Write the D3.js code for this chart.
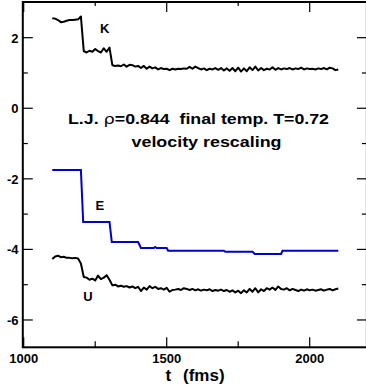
<!DOCTYPE html>
<html><head><meta charset="utf-8">
<script src="https://cdn.jsdelivr.net/npm/d3@7"></script>
<style>
html,body{margin:0;padding:0;background:#fff;}
svg{display:block;}
text{font-family:"Liberation Sans",Arial,Helvetica,sans-serif;font-weight:bold;fill:#000;}
</style></head>
<body>
<script>
// ---- data ----
const tValues = d3.range(1100, 2101, 10); // sample times (fs), 101 points
const kinetic = [2.55,2.54,2.50,2.44,2.45,2.48,2.50,2.50,2.51,2.52,
 2.60,1.62,1.58,1.63,1.60,1.68,1.62,1.58,1.70,1.60,
 1.72,1.22,1.20,1.21,1.19,1.24,1.18,1.23,1.22,1.18,
 1.20,1.14,1.20,1.12,1.18,1.13,1.16,1.10,1.14,1.11,
 1.12,1.08,1.12,1.10,1.12,1.11,1.13,1.12,1.17,1.12,
 1.18,1.14,1.10,1.13,1.08,1.12,1.10,1.14,1.09,1.14,
 1.07,1.13,1.06,1.14,1.05,1.15,1.04,1.13,1.05,1.16,
 1.08,1.18,1.07,1.14,1.08,1.12,1.10,1.16,1.09,1.14,
 1.10,1.13,1.11,1.14,1.10,1.13,1.11,1.15,1.10,1.13,
 1.11,1.12,1.10,1.13,1.11,1.14,1.10,1.15,1.13,1.08,1.10];
const potential = [-4.27,-4.20,-4.18,-4.22,-4.21,-4.24,-4.24,-4.25,-4.24,-4.26,
 -4.40,-4.78,-4.80,-4.86,-4.83,-4.88,-4.74,-4.84,-4.80,-4.73,
 -4.86,-5.02,-5.00,-5.05,-5.03,-5.06,-5.04,-5.08,-5.05,-5.10,
 -5.06,-5.18,-5.08,-5.14,-5.04,-5.10,-5.06,-5.12,-5.10,-5.14,
 -5.09,-5.20,-5.15,-5.14,-5.12,-5.15,-5.10,-5.12,-5.15,-5.12,
 -5.16,-5.13,-5.17,-5.14,-5.16,-5.13,-5.18,-5.15,-5.17,-5.14,
 -5.18,-5.15,-5.20,-5.16,-5.22,-5.17,-5.24,-5.16,-5.22,-5.12,
 -5.20,-5.10,-5.22,-5.13,-5.18,-5.10,-5.14,-5.08,-5.15,-5.05,
 -5.12,-5.14,-5.10,-5.16,-5.12,-5.15,-5.18,-5.14,-5.17,-5.13,
 -5.16,-5.14,-5.17,-5.15,-5.13,-5.17,-5.14,-5.12,-5.16,-5.13,-5.11];
const energyT = [1100,1200,1208,1300,1308,1400,1410,1455,1460,1465,1500,1505,1700,1705,1800,1808,1900,1905,2100];
const energy  = [-1.75,-1.75,-3.22,-3.22,-3.79,-3.79,-3.96,-3.96,-3.93,-3.96,-3.96,-4.04,-4.04,-4.07,-4.07,-4.13,-4.13,-4.04,-4.04];
const xMajorTicks = [1000,1500,2000];
const xMinorTicks = [1250,1750];
const yMajorTicks = [2,0,-2,-4,-6];
const yMinorTicks = [1,-1,-3,-5];

// ---- chart ----
const W = 366, H = 389;
const svg = d3.select("body").append("svg").attr("width", W).attr("height", H);
const x = d3.scaleLinear().domain([1000, 2200]).range([23.7, 366.9]);
const y = d3.scaleLinear().domain([3, -6.8]).range([2.4, 348.2]);
const L = 22.8, R = 366.9, T = 2, B = 347.3;

const line = d3.line().x(d => x(d[0])).y(d => y(d[1]));

// frame
svg.append("rect").attr("x", L).attr("y", T).attr("width", R - L).attr("height", B - T)
  .attr("fill", "none").attr("stroke", "#000").attr("stroke-width", 2);

const tk = svg.append("g").attr("stroke", "#000").attr("stroke-width", 1.2);
yMajorTicks.forEach(v => {
  tk.append("line").attr("x1", L).attr("x2", L + 10).attr("y1", y(v)).attr("y2", y(v));
  tk.append("line").attr("x1", R - 10).attr("x2", R).attr("y1", y(v)).attr("y2", y(v));
});
yMinorTicks.forEach(v => {
  tk.append("line").attr("x1", L).attr("x2", L + 5).attr("y1", y(v)).attr("y2", y(v));
  tk.append("line").attr("x1", R - 5).attr("x2", R).attr("y1", y(v)).attr("y2", y(v));
});
xMajorTicks.forEach(v => {
  tk.append("line").attr("x1", x(v)).attr("x2", x(v)).attr("y1", B).attr("y2", B - 10);
  tk.append("line").attr("x1", x(v)).attr("x2", x(v)).attr("y1", T).attr("y2", T + 10);
});
xMinorTicks.forEach(v => {
  tk.append("line").attr("x1", x(v)).attr("x2", x(v)).attr("y1", B).attr("y2", B - 6);
  tk.append("line").attr("x1", x(v)).attr("x2", x(v)).attr("y1", T).attr("y2", T + 4);
});

// tick labels
svg.append("g").selectAll("text").data(yMajorTicks).join("text")
  .attr("x", 18.5).attr("y", d => y(d) + 5).attr("text-anchor", "end")
  .attr("font-size", 13).text(d => d);
svg.append("g").selectAll("text").data(xMajorTicks).join("text")
  .attr("x", d => x(d)).attr("y", 363.3).attr("text-anchor", "middle")
  .attr("font-size", 13).text(d => d);

// axis title
svg.append("text").attr("x", 165.5).attr("y", 380.5).attr("font-size", 17).text("t");
svg.append("text").attr("x", 183).attr("y", 380.5).attr("font-size", 17).text("(fms)");

// series
const kData = tValues.map((t, i) => [t, kinetic[i]]);
const uData = tValues.map((t, i) => [t, potential[i]]);
const eData = energyT.map((t, i) => [t, energy[i]]);
svg.append("path").attr("d", line(kData)).attr("fill", "none").attr("stroke", "#000").attr("stroke-width", 2).attr("stroke-linejoin", "round");
svg.append("path").attr("d", line(uData)).attr("fill", "none").attr("stroke", "#000").attr("stroke-width", 2).attr("stroke-linejoin", "round");
svg.append("path").attr("d", line(eData)).attr("fill", "none").attr("stroke", "#0000c8").attr("stroke-width", 2);

// labels
svg.append("text").attr("x", 100).attr("y", 33.3).attr("font-size", 13).text("K");
svg.append("text").attr("x", 95.5).attr("y", 210).attr("font-size", 13).text("E");
svg.append("text").attr("x", 83.3).attr("y", 301).attr("font-size", 13).text("U");

// annotation
const ann = svg.append("text").attr("x", 68).attr("y", 124).attr("font-size", 14)
  .attr("textLength", 261).attr("lengthAdjust", "spacingAndGlyphs");
ann.append("tspan").text("L.J. ");
ann.append("tspan").attr("font-weight", "normal").attr("font-family", "'DejaVu Sans',sans-serif").text("\u03C1");
ann.append("tspan").text("=0.844\u00A0\u00A0final temp. T=0.72");
svg.append("text").attr("x", 131.5).attr("y", 146.7).attr("font-size", 14)
  .attr("textLength", 150).attr("lengthAdjust", "spacingAndGlyphs").text("velocity rescaling");
</script>
</body></html>
